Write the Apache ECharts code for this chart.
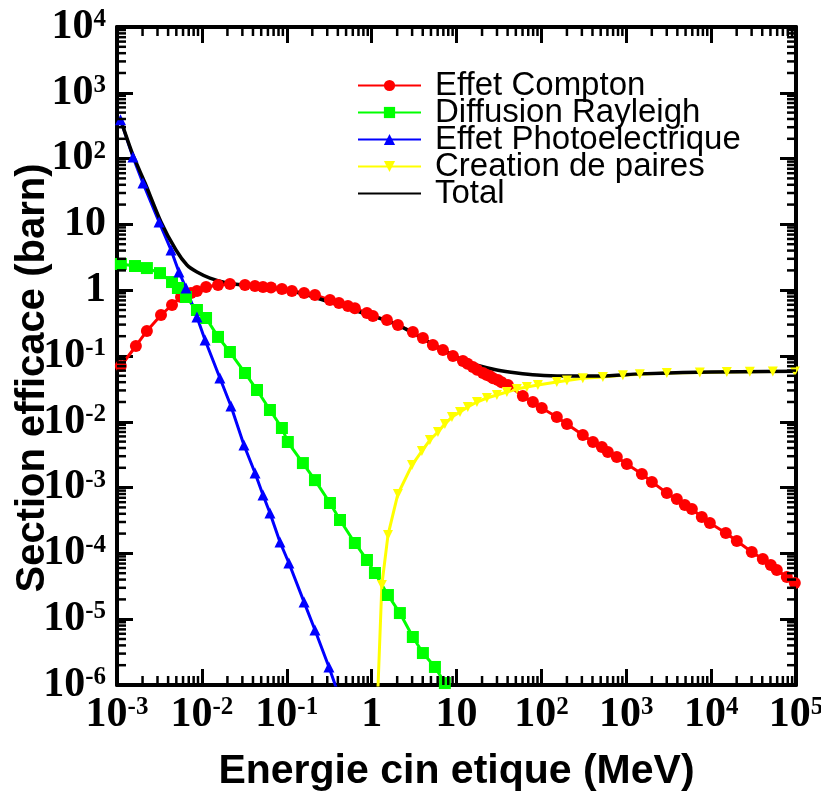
<!DOCTYPE html>
<html><head><meta charset="utf-8">
<script src="https://cdn.jsdelivr.net/npm/echarts@6/dist/echarts.min.js"></script>
<style>html,body{margin:0;padding:0;background:#fff}#c{width:821px;height:794px}</style>
</head><body><div id="c"></div>
<script>
// ---- data (energy in MeV, cross-section in barn) ----
const comptonE = [0.00111, 0.00167, 0.00225, 0.0033, 0.00445, 0.00568, 0.00745, 0.00875, 0.0112, 0.0155, 0.0214, 0.0322, 0.0422, 0.0525, 0.0652, 0.0877, 0.115, 0.16, 0.215, 0.323, 0.412, 0.526, 0.635, 0.881, 1.035, 1.514, 2.04, 3.06, 4.02, 5.27, 6.92, 9.08, 11.9, 13.5, 15.6, 17.5, 20.5, 22.5, 24.7, 27, 30.8, 34, 40.3, 60.5, 79.4, 101, 152, 200, 308, 405, 516, 607, 774, 1016, 1528, 2004, 3006, 3945, 4898, 5929, 7762, 9661, 14890, 20090, 30130, 40640, 50470, 59430, 77980, 96830];
const comptonS = [0.0705, 0.142, 0.24, 0.42, 0.596, 0.789, 0.906, 0.972, 1.12, 1.2, 1.24, 1.2, 1.16, 1.12, 1.1, 1.04, 0.972, 0.906, 0.845, 0.71, 0.638, 0.575, 0.53, 0.45, 0.405, 0.352, 0.296, 0.232, 0.188, 0.147, 0.123, 0.1, 0.0839, 0.076, 0.0681, 0.062, 0.0552, 0.052, 0.0497, 0.046, 0.0432, 0.04, 0.0362, 0.0247, 0.02, 0.0162, 0.0118, 0.00927, 0.0063, 0.00493, 0.00414, 0.00348, 0.00292, 0.00229, 0.00161, 0.00122, 0.000828, 0.000671, 0.000544, 0.000473, 0.000357, 0.00029, 0.000204, 0.000154, 0.000105, 0.0000822, 0.0000667, 0.000056, 0.0000438, 0.0000355];

const rayleighE = [0.00111, 0.00163, 0.00225, 0.00321, 0.00445, 0.00522, 0.0065, 0.00875, 0.0112, 0.0155, 0.0214, 0.0322, 0.0446, 0.0634, 0.0877, 0.103, 0.155, 0.215, 0.323, 0.424, 0.635, 0.881, 1.094, 1.556, 2.153, 3.06, 4.02, 5.57, 7.29];
const rayleighS = [2.5, 2.33, 2.17, 1.82, 1.33, 1.08, 0.789, 0.5, 0.378, 0.195, 0.115, 0.0552, 0.0304, 0.0151, 0.00805, 0.00493, 0.00236, 0.0013, 0.000583, 0.000322, 0.000144, 0.0000794, 0.0000504, 0.0000233, 0.0000124, 0.00000536, 0.00000306, 0.00000188, 0.00000107];

const photoE = [0.0011, 0.00154, 0.00202, 0.00313, 0.00433, 0.00537, 0.0065, 0.00875, 0.0109, 0.0163, 0.022, 0.0313, 0.0423, 0.0525, 0.0634, 0.0832, 0.106, 0.16, 0.215, 0.314, 0.45];
const photoS = [390, 106, 42.6, 10.9, 4.08, 1.89, 1.08, 0.392, 0.175, 0.0463, 0.0174, 0.00444, 0.00167, 0.000773, 0.000411, 0.000149, 0.0000714, 0.0000182, 0.00000685, 0.00000188, 0.0000005];

const pairE = [1.15, 1.32, 1.56, 2.04, 2.99, 3.91, 4.86, 6.04, 7.29, 8.83, 11.0, 13.6, 17.4, 22.8, 29.9, 39.2, 51.4, 67.5, 91.0, 152, 200, 308, 530, 912, 1445, 3006, 7362, 15310, 28580, 53330, 96830];
const pairS = [3e-7, 3.31e-5, 1.91e-4, 8.0e-4, 2.2e-3, 3.6e-3, 5.28e-3, 7.0e-3, 9.27e-3, 0.0118, 0.0141, 0.0168, 0.02, 0.023, 0.0255, 0.0284, 0.0315, 0.0338, 0.0362, 0.0403, 0.0425, 0.046, 0.048, 0.051, 0.053, 0.055, 0.056, 0.057, 0.0575, 0.058, 0.058];

const totalE = [0.0011, 0.00154, 0.00214, 0.0033, 0.00495, 0.00667, 0.00875, 0.01245, 0.0197, 0.0305, 0.0687, 0.143, 0.35, 0.791, 1.99, 4.86, 11.9, 18.9, 29.9, 51.4, 88.5, 179, 489, 1445, 4645, 21780, 96830];
const totalS = [395, 113.5, 42.6, 10.9, 4.08, 2.42, 1.89, 1.53, 1.29, 1.2, 1.08, 0.906, 0.638, 0.45, 0.3, 0.16, 0.0869, 0.0705, 0.0613, 0.0552, 0.0514, 0.0497, 0.0497, 0.0535, 0.056, 0.0578, 0.0585];

const seriesNames = ['Effet Compton', 'Diffusion Rayleigh', 'Effet Photoelectrique', 'Creation de paires', 'Total'];
const xTickLabels = ['10^-3', '10^-2', '10^-1', '1', '10', '10^2', '10^3', '10^4', '10^5'];
const yTickLabels = ['10^-6', '10^-5', '10^-4', '10^-3', '10^-2', '10^-1', '1', '10', '10^2', '10^3', '10^4'];
const xTitle = 'Energie cin etique (MeV)';
const yTitle = 'Section efficace (barn)';

// ---- helpers ----
function pairs(xs, ys) { return xs.map((x, i) => [x, ys[i]]); }
function tickRich(labels, minExp) {
  return function (v) {
    const k = Math.round(Math.log10(v));
    const lab = labels[k - minExp];
    if (lab === undefined) return '';
    const p = lab.split('^');
    if (p.length === 1) return '{a|' + p[0] + '}';
    return '{a|' + p[0] + '}{b|' + p[1] + '}';
  };
}
const rich = {
  a: { fontFamily: 'Liberation Serif', fontWeight: 'bold', fontSize: 42, lineHeight: 40, color: '#000' },
  b: { fontFamily: 'Liberation Serif', fontWeight: 'bold', fontSize: 25, lineHeight: 25, color: '#000', verticalAlign: 'top' }
};
function minorValues(lo, hi) {
  const out = [];
  for (let k = lo; k < hi; k++) for (let m = 2; m <= 9; m++) out.push(m * Math.pow(10, k));
  return out;
}
const xMinor = minorValues(-3, 5);
const yMinor = minorValues(-6, 4);
const XMIN = 1e-3, XMAX = 1e5, YMIN = 1e-6, YMAX = 1e4;

const axisLineStyle = { show: true, onZero: false, lineStyle: { color: '#000', width: 4 } };
const majorTick = { show: true, inside: true, length: 16, lineStyle: { color: '#000', width: 3 } };

const chart = echarts.init(document.getElementById('c'), null, { renderer: 'canvas' });
chart.setOption({
  animation: false,
  backgroundColor: '#fff',
  grid: { left: 117, right: 25, top: 27, bottom: 109, containLabel: false, outerBoundsMode: 'none' },
  legend: {
    data: seriesNames.slice(0, 4).concat([{ name: seriesNames[4], itemStyle: { opacity: 0 } }]),
    orient: 'vertical',
    left: 357, top: 69, padding: 0,
    itemWidth: 63, itemHeight: 14, itemGap: -6,
    textStyle: { fontFamily: 'Liberation Sans', fontSize: 33, lineHeight: 31, color: '#000', padding: [0, 0, 0, 9] },
    selectedMode: false
  },
  xAxis: [{
    type: 'log', logBase: 10, min: XMIN, max: XMAX, interval: 1, splitNumber: 8, position: 'bottom',
    axisLine: axisLineStyle, axisTick: majorTick, splitLine: { show: false }, minorTick: { show: false },
    axisLabel: { show: true, margin: 10, formatter: tickRich(xTickLabels, -3), rich: rich, hideOverlap: false, showMinLabel: true, showMaxLabel: true },
    name: xTitle, nameLocation: 'middle', nameGap: 66, nameMoveOverlap: false,
    nameTextStyle: { fontFamily: 'Liberation Sans', fontWeight: 'bold', fontSize: 41, color: '#000' }
  }, {
    type: 'log', logBase: 10, min: XMIN, max: XMAX, interval: 1, splitNumber: 8, position: 'top',
    axisLine: axisLineStyle, axisTick: majorTick, splitLine: { show: false }, axisLabel: { show: false }
  }],
  yAxis: [{
    type: 'log', logBase: 10, min: YMIN, max: YMAX, interval: 1, splitNumber: 10, position: 'left',
    axisLine: axisLineStyle, axisTick: majorTick, splitLine: { show: false }, minorTick: { show: false },
    axisLabel: { show: true, margin: 11, formatter: tickRich(yTickLabels, -6), rich: rich, hideOverlap: false, showMinLabel: true, showMaxLabel: true },
    name: yTitle, nameLocation: 'middle', nameGap: 64, nameRotate: 90, nameMoveOverlap: false,
    nameTextStyle: { fontFamily: 'Liberation Sans', fontWeight: 'bold', fontSize: 40, color: '#000', padding: [0, 44, 0, 0] }
  }, {
    type: 'log', logBase: 10, min: YMIN, max: YMAX, interval: 1, splitNumber: 10, position: 'right',
    axisLine: axisLineStyle, axisTick: majorTick, splitLine: { show: false }, axisLabel: { show: false }
  }],
  series: [
    {
      name: seriesNames[0], type: 'line', data: pairs(comptonE, comptonS), clip: true,
      symbol: 'circle', symbolSize: 12, color: '#ff0000',
      lineStyle: { color: '#ff0000', width: 3 }, itemStyle: { color: '#ff0000' }
    },
    {
      name: seriesNames[1], type: 'line', data: pairs(rayleighE, rayleighS), clip: true,
      symbol: 'rect', symbolSize: 12, color: '#00ff00',
      lineStyle: { color: '#00ff00', width: 3 }, itemStyle: { color: '#00ff00' }
    },
    {
      name: seriesNames[2], type: 'line', data: pairs(photoE, photoS), clip: true,
      symbol: 'triangle', symbolSize: 11, color: '#0000ff',
      lineStyle: { color: '#0000ff', width: 3 }, itemStyle: { color: '#0000ff' }
    },
    {
      name: seriesNames[3], type: 'line', data: pairs(pairE, pairS), clip: true,
      symbol: 'triangle', symbolRotate: 180, symbolSize: 10, color: '#ffff00',
      lineStyle: { color: '#ffff00', width: 3 }, itemStyle: { color: '#ffff00' }
    },
    {
      name: seriesNames[4], type: 'line', data: pairs(totalE, totalS), clip: true,
      symbol: 'none', smooth: 0.25, color: '#000000',
      lineStyle: { color: '#000000', width: 3.5 }
    },
    {
      type: 'custom', coordinateSystem: 'cartesian2d', xAxisIndex: 0, yAxisIndex: 0,
      data: [[1, 1]], silent: true, z: 5,
      renderItem: function (params, api) {
        const children = [];
        const L = 9;
        const yb = api.coord([1, YMIN])[1], yt = api.coord([1, YMAX])[1];
        const xl = api.coord([XMIN, 1])[0], xr = api.coord([XMAX, 1])[0];
        const st = () => ({ stroke: '#000', lineWidth: 2.5 });
        xMinor.forEach(v => {
          const x = api.coord([v, 1])[0];
          children.push({ type: 'line', shape: { x1: x, y1: yb, x2: x, y2: yb - L }, style: st() });
          children.push({ type: 'line', shape: { x1: x, y1: yt, x2: x, y2: yt + L }, style: st() });
        });
        yMinor.forEach(v => {
          const y = api.coord([1, v])[1];
          children.push({ type: 'line', shape: { x1: xl, y1: y, x2: xl + L, y2: y }, style: st() });
          children.push({ type: 'line', shape: { x1: xr, y1: y, x2: xr - L, y2: y }, style: st() });
        });
        return { type: 'group', children: children };
      }
    }
  ]
});
</script>
</body></html>
